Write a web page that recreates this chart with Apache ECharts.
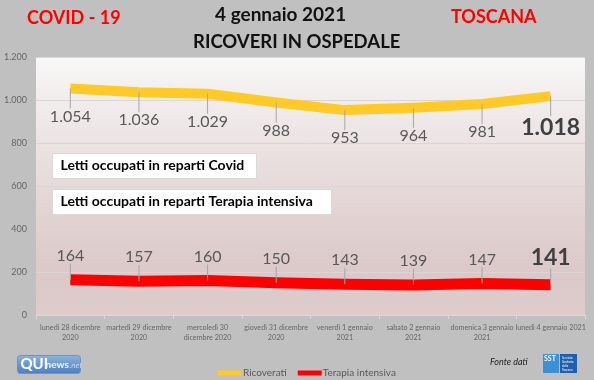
<!DOCTYPE html>
<html><head><meta charset="utf-8">
<script src="https://cdn.jsdelivr.net/npm/echarts@6/dist/echarts.min.js"></script>
<style>html,body{margin:0;padding:0;background:#c0c0c0;}#c{width:594px;height:380px;}</style>
</head><body><div id="c"></div>
<script>
var categories = ['lunedì 28 dicembre\n2020','martedì 29 dicembre\n2020','mercoledì 30\ndicembre 2020','giovedì 31 dicembre\n2020','venerdì 1 gennaio\n2021','sabato 2 gennaio\n2021','domenica 3 gennaio\n2021','lunedì 4 gennaio 2021'];
var ricoverati = [1054, 1036, 1029, 988, 953, 964, 981, 1018];
var terapia = [164, 157, 160, 150, 143, 139, 147, 141];
var yTicks = [0, 200, 400, 600, 800, 1000, 1200];

var FONT = 'Lato';
function fmt(v){ return String(v).replace(/\B(?=(\d{3})+(?!\d))/g, '.'); }
function items(arr){
  return arr.map(function(v,i){
    if(i === arr.length-1){
      return {value:v, label:{fontSize:23, fontWeight:'bold', color:'#404040'}};
    }
    return v;
  });
}
var chart = echarts.init(document.getElementById('c'));
chart.setOption({
  backgroundColor:'#c0c0c0',
  animation:false,
  textStyle:{fontFamily:FONT},
  grid:{left:36, right:9, top:57, bottom:65, show:true, borderWidth:0,
    backgroundColor:new echarts.graphic.LinearGradient(0,0,0,1,[
      {offset:0,color:'#f8f7f7'},{offset:0.55,color:'#e4d6d6'},{offset:0.85,color:'#dbc8c8'},{offset:1,color:'#dfcdcd'}])},
  legend:{left:213, top:363, itemWidth:24, itemHeight:5, itemGap:11, icon:'rect',
    textStyle:{color:'#595959', fontSize:10, fontFamily:FONT, padding:[0,0,0,-4]},
    data:['Ricoverati','Terapia intensiva']},
  xAxis:{type:'category', data:categories, boundaryGap:true,
    axisLine:{lineStyle:{color:'#d9d9d9'}},
    axisTick:{show:true, length:4, lineStyle:{color:'#d9d9d9'}},
    axisLabel:{color:'#666', fontSize:7.2, lineHeight:10.5, margin:7, interval:0, fontFamily:FONT}},
  yAxis:{type:'value', min:0, max:1200, interval:200,
    axisLine:{show:false}, axisTick:{show:false},
    axisLabel:{color:'#666', fontSize:9, margin:9, fontFamily:FONT, formatter:function(v){ return yTicks.indexOf(v)>=0 ? fmt(v) : ''; }},
    splitLine:{lineStyle:{color:'#dcd5d5', width:1}}},
  series:[
    {name:'Ricoverati', type:'line', data:items(ricoverati), symbol:'circle', symbolSize:0.1, showSymbol:true, color:'#ffc926',
     lineStyle:{width:10, color:'#ffc926', cap:'butt', join:'round'},
     label:{show:true, position:'bottom', distance:4, fontSize:16, color:'#595959', fontFamily:FONT, formatter:function(p){return fmt(p.value);}},
     labelLayout:{dy:16},
     labelLine:{show:true, lineStyle:{color:'#a6a6a6', width:1}}},
    {name:'Terapia intensiva', type:'line', data:items(terapia), symbol:'circle', symbolSize:0.1, showSymbol:true, color:'#ff0000',
     lineStyle:{width:11, color:'#ff0000', cap:'butt', join:'round'},
     label:{show:true, position:'top', distance:4, fontSize:16, color:'#595959', fontFamily:FONT, formatter:function(p){return fmt(p.value);}},
     labelLayout:{dy:-12},
     labelLine:{show:true, lineStyle:{color:'#a6a6a6', width:1}}}
  ],
  graphic:[
    {type:'text', left:27, top:9, style:{text:'COVID - 19', fill:'#ff0000', font:'bold 18px '+FONT}},
    {type:'text', left:451, top:8, style:{text:'TOSCANA', fill:'#ff0000', font:'bold 18px '+FONT}},
    {type:'text', left:215, top:5, style:{text:'4 gennaio 2021', fill:'#111', font:'bold 19px '+FONT}},
    {type:'text', left:193, top:33, style:{text:'RICOVERI IN OSPEDALE', fill:'#111', font:'bold 18.5px '+FONT}},
    {type:'group', left:52, top:153, children:[
      {type:'rect', shape:{x:0,y:0,width:204,height:25}, style:{fill:'#fff', stroke:'#d9d9d9', lineWidth:1}},
      {type:'text', x:8, y:5, style:{text:'Letti occupati in reparti Covid', fill:'#000', font:'bold 14px '+FONT}}
    ]},
    {type:'group', left:52, top:189, children:[
      {type:'rect', shape:{x:0,y:0,width:279,height:25}, style:{fill:'#fff', stroke:'#d9d9d9', lineWidth:1}},
      {type:'text', x:8, y:5, style:{text:'Letti occupati in reparti Terapia intensiva', fill:'#000', font:'bold 14px '+FONT}}
    ]},
    {type:'group', left:17, top:355, children:[
      {type:'rect', shape:{x:0,y:0,width:63,height:18,r:3}, style:{fill:new echarts.graphic.LinearGradient(0,0,0,1,[{offset:0,color:'#8fb4e0'},{offset:1,color:'#4a7dc0'}]), stroke:'#6d94c9'}},
      {type:'text', x:3, y:1, style:{text:'QUI', fill:'#fff', font:'bold 15px '+FONT}},
      {type:'text', x:28, y:4, style:{text:'news', fill:'#f0f4fa', font:'bold 10px '+FONT}},
      {type:'text', x:52, y:6, style:{text:'.net', fill:'#c8d8ee', font:'italic 8px '+FONT}}
    ]},
    {type:'text', left:490, top:358, style:{text:'Fonte dati', fill:'#222', font:'italic 9px '+FONT}},
    {type:'group', left:543, top:354, children:[
      {type:'rect', shape:{x:0,y:0,width:16,height:19}, style:{fill:'#3d8fd6'}},
      {type:'rect', shape:{x:17,y:0,width:17,height:19}, style:{fill:'#1e5fae'}},
      {type:'text', x:1, y:1, style:{text:'SST', fill:'#fff', font:'bold 7px '+FONT}},
      {type:'text', x:19, y:2, style:{text:'Servizio\nSanitario\ndella\nToscana', fill:'#fff', font:'3px '+FONT, lineHeight:4}}
    ]}
  ]
});
</script></body></html>
